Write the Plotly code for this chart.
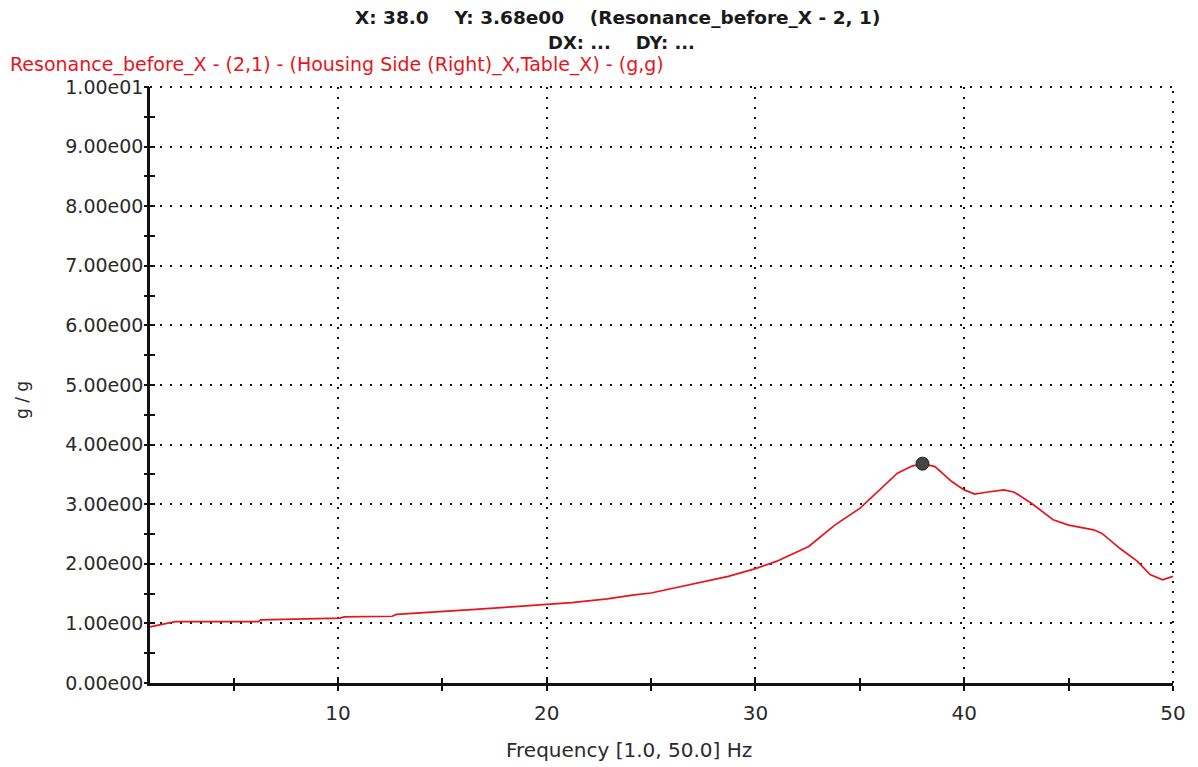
import plotly.graph_objects as go

# ---- data ----
freq_hz = [1.0, 1.5, 2.2, 3.0, 4.0, 5.0, 6.2, 6.3, 8.8, 10.1, 10.3, 12.6, 12.8, 14.8,
           16.4, 18.0, 20.0, 21.2, 22.9, 24.2, 25.0, 26.8, 28.7, 30.0, 31.0, 32.55,
           33.8, 35.0, 35.96, 36.8, 37.5, 38.0, 38.6, 39.4, 40.0, 40.5, 41.06, 41.9,
           42.4, 43.2, 44.26, 45.0, 46.2, 46.6, 47.45, 48.3, 48.9, 49.5, 50.0]
gain_g_per_g = [0.94, 0.98, 1.03, 1.03, 1.03, 1.03, 1.03, 1.06, 1.08, 1.09, 1.11, 1.12,
                1.15, 1.19, 1.23, 1.27, 1.32, 1.35, 1.41, 1.48, 1.51, 1.65, 1.79, 1.92,
                2.04, 2.29, 2.65, 2.93, 3.24, 3.52, 3.64, 3.68, 3.63, 3.38, 3.24, 3.17,
                3.20, 3.24, 3.20, 3.02, 2.74, 2.65, 2.57, 2.51, 2.26, 2.04, 1.82, 1.73, 1.79]
cursor_x = [38.0]
cursor_y = [3.68]

x_tick_vals = [10, 20, 30, 40, 50]
x_tick_text = ["10", "20", "30", "40", "50"]
y_tick_vals = [0, 1, 2, 3, 4, 5, 6, 7, 8, 9, 10]
y_tick_text = ["0.00e00", "1.00e00", "2.00e00", "3.00e00", "4.00e00", "5.00e00",
               "6.00e00", "7.00e00", "8.00e00", "9.00e00", "1.00e01"]

header_1 = "X: 38.0    Y: 3.68e00    (Resonance_before_X - 2, 1)"
header_2 = "DX: ...    DY: ..."
series_title = "Resonance_before_X - (2,1) - (Housing Side (Right)_X,Table_X) - (g,g)"
x_title = "Frequency [1.0, 50.0] Hz"
y_title = "g / g"

FONT = "'DejaVu Sans', Arial, sans-serif"
TXT = "#2a2a2a"
RED = "#e8141c"

fig = go.Figure()
fig.add_trace(go.Scatter(x=freq_hz, y=gain_g_per_g, mode="lines",
                         line=dict(color=RED, width=1.7), hoverinfo="skip",
                         showlegend=False))
fig.add_trace(go.Scatter(x=cursor_x, y=cursor_y, mode="markers", xaxis="x2", yaxis="y2",
                         marker=dict(color="#454545", size=13,
                                     line=dict(color="#222222", width=1)),
                         showlegend=False))

DASH = "2px,8px"
grid_common = dict(showgrid=True, gridcolor="#111111", gridwidth=2, griddash=DASH)

fig.update_layout(
    width=1190, height=759,
    margin=dict(l=142, r=21, t=79, b=84),
    paper_bgcolor="white", plot_bgcolor="white",
    font=dict(family=FONT, color=TXT, size=18),
    xaxis=dict(range=[1, 50], tickmode="array", tickvals=x_tick_vals, ticktext=x_tick_text,
               ticks="outside", ticklen=5, tickwidth=2, tickcolor="#111",
               minor=dict(tickmode="linear", tick0=0, dtick=5, ticks="outside",
                          ticklen=5, tickwidth=2, tickcolor="#111", showgrid=False),
               showline=True, linecolor="#111", linewidth=2.5, zeroline=False,
               tickfont=dict(size=20, color=TXT), ticklabelstandoff=5,
               **grid_common),
    yaxis=dict(range=[0, 10], tickmode="array", tickvals=y_tick_vals, ticktext=y_tick_text,
               ticks="inside", ticklen=5, tickwidth=2, tickcolor="#111",
               minor=dict(tickmode="linear", tick0=0, dtick=0.5, ticks="inside",
                          ticklen=5, tickwidth=2, tickcolor="#111", showgrid=False),
               showline=True, linecolor="#111", linewidth=2.5, zeroline=False,
               tickfont=dict(size=19, color=TXT),
               **grid_common),
    xaxis2=dict(range=[1, 50], overlaying="x", anchor="y2", tickmode="linear", tick0=0,
                dtick=5, ticks="inside", ticklen=5, tickwidth=2, tickcolor="#111",
                showticklabels=False, showgrid=False, zeroline=False, showline=False),
    yaxis2=dict(range=[0, 10], overlaying="y", anchor="x2", tickmode="linear", tick0=0,
                dtick=0.5, ticks="outside", ticklen=5, tickwidth=2, tickcolor="#111",
                showticklabels=False, showgrid=False, zeroline=False, showline=False),
    shapes=[
        dict(type="line", xref="paper", yref="paper", x0=0, x1=1, y0=1, y1=1,
             line=dict(color="#111111", width=2, dash=DASH)),
        dict(type="line", xref="paper", yref="paper", x0=1, x1=1, y0=0, y1=1,
             line=dict(color="#111111", width=2, dash=DASH)),
    ],
)

fig.add_annotation(text=header_1, xref="paper", yref="paper", x=0.457, y=1.1158,
                   xanchor="center", yanchor="middle", showarrow=False,
                   font=dict(size=18.5, color="#1a1a1a", family=FONT, weight="bold"))
fig.add_annotation(text=header_2, xref="paper", yref="paper", x=0.461, y=1.0755,
                   xanchor="center", yanchor="middle", showarrow=False,
                   font=dict(size=18, color="#1a1a1a", family=FONT, weight="bold"))
fig.add_annotation(text=series_title, xref="paper", yref="paper", x=-0.139, y=1.0385,
                   xanchor="left", yanchor="middle", showarrow=False,
                   font=dict(size=19, color=RED, family=FONT))
fig.add_annotation(text=x_title, xref="paper", yref="paper", x=0.468, y=-0.112,
                   xanchor="center", yanchor="middle", showarrow=False,
                   font=dict(size=20, color=TXT, family=FONT))
fig.add_annotation(text=y_title, xref="paper", yref="paper", x=-0.125, y=0.475,
                   xanchor="center", yanchor="middle", showarrow=False, textangle=-90,
                   font=dict(size=17, color=TXT, family=FONT))

fig.write_html("out.html")
